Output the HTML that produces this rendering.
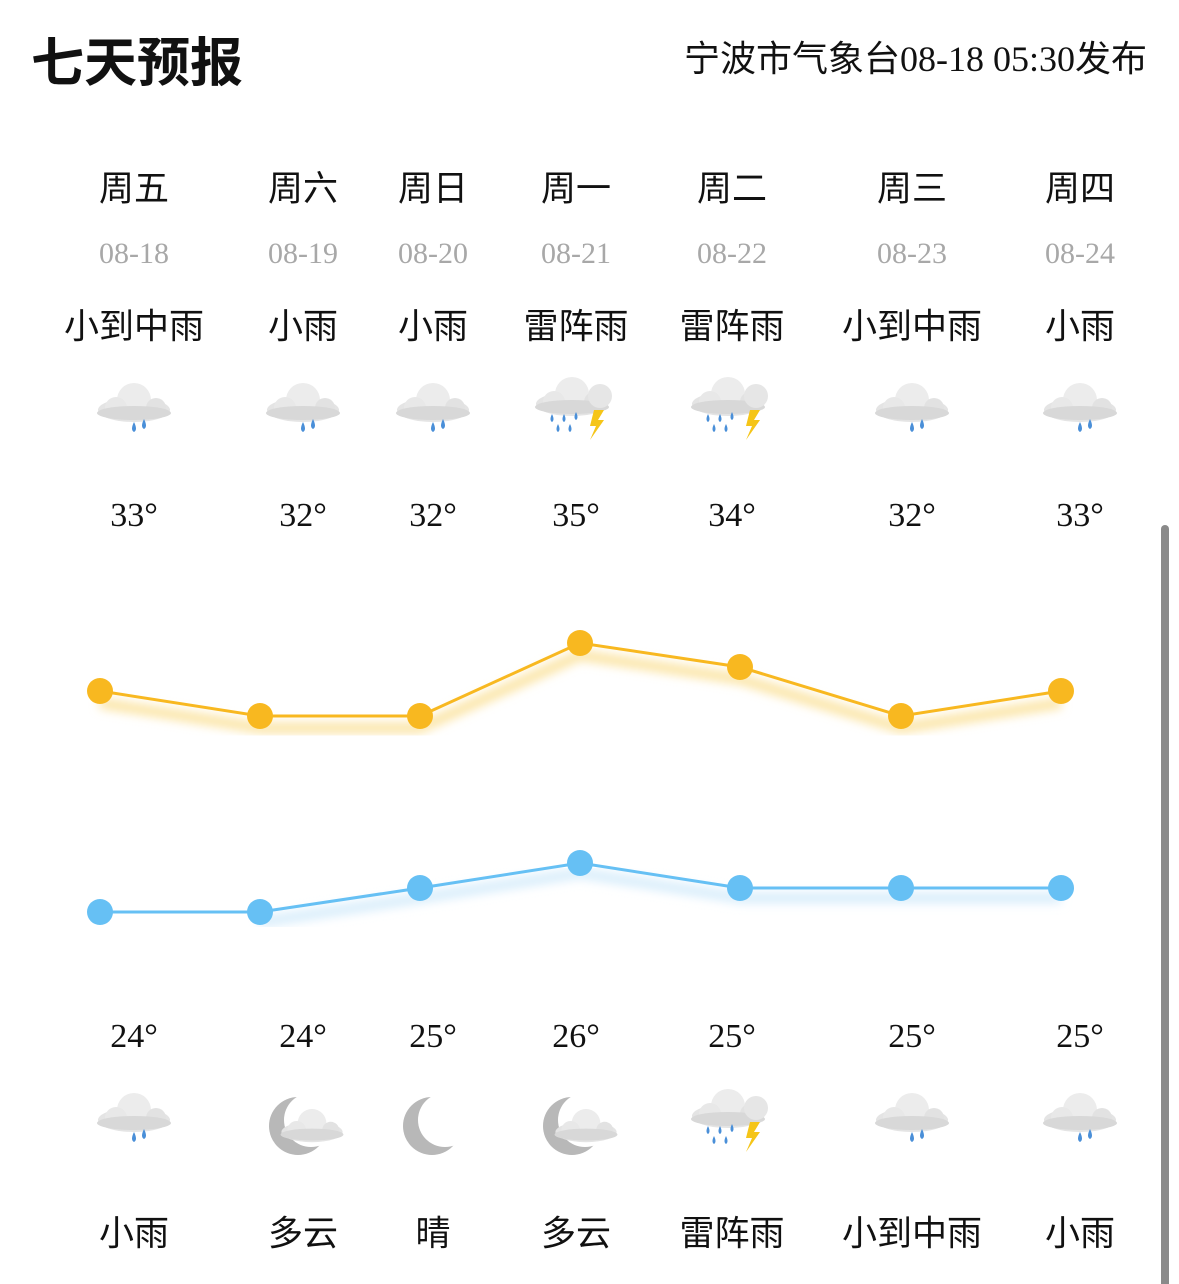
<!DOCTYPE html>
<html><head><meta charset="utf-8"><style>
body{margin:0;width:1179px;height:1284px;background:#fff;position:relative;overflow:hidden;font-family:"Liberation Serif","Noto Sans CJK SC",sans-serif;color:#111}
.t{position:absolute;white-space:nowrap;transform:translate(-50%,-50%)}
</style></head><body>
<div style="position:absolute;left:31px;top:28px;font:bold 53px 'Noto Sans CJK SC',sans-serif;line-height:62px">七天预报</div>
<div style="position:absolute;right:32px;top:36px;font:36px 'Liberation Serif','Noto Sans CJK SC',sans-serif;line-height:46px">宁波市气象台08-18 05:30发布</div>
<div id="c"></div>
<svg width="1179" height="1284" style="position:absolute;left:0;top:0">
<defs>
<g id="cl"><ellipse cx="0" cy="0" rx="36" ry="12" fill="#e4e4e4"/><circle cx="0" cy="-10" r="17" fill="#ececec"/><circle cx="-18" cy="-2" r="11" fill="#e8e8e8"/><circle cx="22" cy="-2" r="10" fill="#e2e2e2"/><ellipse cx="0" cy="3" rx="37" ry="7" fill="#d8d8d8"/></g>
<g id="rain"><use href="#cl"/><path d="M0 12 q-4 8 0 10 q4-2 0-10z M10 9 q-4 8 0 10 q4-2 0-10z" fill="#4a8fd8"/></g>
<g id="th"><use href="#cl"/><circle cx="28" cy="-8" r="12" fill="#e6e6e6"/><path d="M-20 10 q-3 6 0 8 q3-2 0-8z M-8 10 q-3 6 0 8 q3-2 0-8z M-14 20 q-3 6 0 8 q3-2 0-8z M-2 20 q-3 6 0 8 q3-2 0-8z M4 8 q-3 6 0 8 q3-2 0-8z" fill="#4a8fd8"/><path d="M22 6 l10 0 -6 10 6 0 -14 20 6-14 -6 0z" fill="#f5c518"/></g>
<g id="moon"><circle cx="0" cy="0" r="29" fill="#b8b8b8"/><circle cx="13" cy="-6" r="27" fill="#fff"/></g>
<g id="mc"><use href="#moon"/><g transform="translate(14,6) scale(0.85)"><use href="#cl"/></g></g>
<filter id="bl"><feGaussianBlur stdDeviation="5"/></filter>
</defs>
<g transform="translate(134,410)"><use href="#rain"/></g>
<g transform="translate(303,410)"><use href="#rain"/></g>
<g transform="translate(433,410)"><use href="#rain"/></g>
<g transform="translate(572,404)"><use href="#th"/></g>
<g transform="translate(728,404)"><use href="#th"/></g>
<g transform="translate(912,410)"><use href="#rain"/></g>
<g transform="translate(1080,410)"><use href="#rain"/></g>
<g transform="translate(134,1120)"><use href="#rain"/></g>
<g transform="translate(298,1126)"><use href="#mc"/></g>
<g transform="translate(432,1126)"><use href="#moon"/></g>
<g transform="translate(572,1126)"><use href="#mc"/></g>
<g transform="translate(728,1116)"><use href="#th"/></g>
<g transform="translate(912,1120)"><use href="#rain"/></g>
<g transform="translate(1080,1120)"><use href="#rain"/></g>
<polyline points="100,703 260,728 420,728 580,655 740,679 901,728 1061,703" fill="none" stroke="#fbe3a0" stroke-width="10" filter="url(#bl)"/>
<polyline points="100,691 260,716 420,716 580,643 740,667 901,716 1061,691" fill="none" stroke="#f8b820" stroke-width="3"/>
<g fill="#f8b820"><circle cx="100" cy="691" r="13"/><circle cx="260" cy="716" r="13"/><circle cx="420" cy="716" r="13"/><circle cx="580" cy="643" r="13"/><circle cx="740" cy="667" r="13"/><circle cx="901" cy="716" r="13"/><circle cx="1061" cy="691" r="13"/></g>
<polyline points="260,922 420,898 580,873 740,898 901,898 1061,898" fill="none" stroke="#d6ecfb" stroke-width="10" filter="url(#bl)"/>
<polyline points="100,912 260,912 420,888 580,863 740,888 901,888 1061,888" fill="none" stroke="#66c0f4" stroke-width="3"/>
<g fill="#66c0f4"><circle cx="100" cy="912" r="13"/><circle cx="260" cy="912" r="13"/><circle cx="420" cy="888" r="13"/><circle cx="580" cy="863" r="13"/><circle cx="740" cy="888" r="13"/><circle cx="901" cy="888" r="13"/><circle cx="1061" cy="888" r="13"/></g>
<rect x="1161" y="525" width="8" height="770" rx="4" fill="#8a8a8a"/>
</svg>
<script>
var xs=[134,303,433,576,732,912,1080],d=["周五","周六","周日","周一","周二","周三","周四"],
dt=["08-18","08-19","08-20","08-21","08-22","08-23","08-24"],
w=["小到中雨","小雨","小雨","雷阵雨","雷阵雨","小到中雨","小雨"],
h=[33,32,32,35,34,32,33],l=[24,24,25,26,25,25,25],
n=["小雨","多云","晴","多云","雷阵雨","小到中雨","小雨"],s="";
function t(x,y,txt,st){s+='<div class="t" style="left:'+x+'px;top:'+y+'px;'+st+'">'+txt+'</div>';}
for(var i=0;i<7;i++){var x=xs[i];
t(x,186,d[i],"font-size:35px");
t(x,254,dt[i],"font-size:30px;color:#a8a8a8");
t(x,324,w[i],"font-size:35px");
t(x,516,h[i]+"°","font-size:34px");
t(x,1037,l[i]+"°","font-size:34px");
t(x,1231,n[i],"font-size:35px");}
document.getElementById("c").innerHTML=s;
</script>
</body></html>
